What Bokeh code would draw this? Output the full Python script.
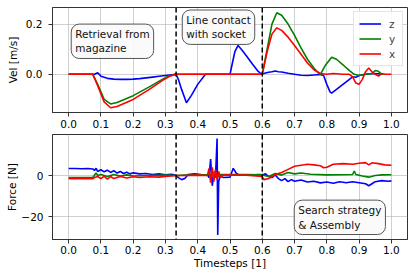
from bokeh.plotting import figure
from bokeh.layouts import column
from bokeh.models import Span, Label, FixedTicker, Legend, LegendItem
from bokeh.embed import file_html
from bokeh.resources import INLINE

# ---------------- data ----------------
# velocity (top panel)
vel_z_t = [0, 0.08, 0.085, 0.09, 0.095, 0.10, 0.11, 0.12, 0.14, 0.16, 0.18, 0.20, 0.22, 0.24, 0.26, 0.28, 0.30, 0.32, 0.333,
           0.34, 0.35, 0.365, 0.38, 0.40, 0.424, 0.50, 0.505, 0.515, 0.525, 0.535, 0.55, 0.57, 0.585, 0.598,
           0.61, 0.62, 0.63, 0.64, 0.65, 0.66, 0.68, 0.70, 0.72, 0.74, 0.76, 0.78, 0.79, 0.80, 0.81, 0.815, 0.83,
           0.85, 0.87, 0.88, 0.89, 0.90, 0.92, 0.94, 0.96, 0.97]
vel_z = [0, 0, 0.003, 0.006, 0.0, -0.008, -0.012, -0.016, -0.019, -0.02, -0.02, -0.019, -0.017, -0.014, -0.011, -0.008, -0.005, -0.002, 0,
         -0.02, -0.06, -0.113, -0.085, -0.04, 0, 0, 0.03, 0.09, 0.115, 0.1, 0.075, 0.04, 0.015, 0,
         0.005, 0.008, 0.01, 0.013, 0.01, 0.009, 0.004, 0.0, -0.004, -0.005, -0.003, -0.001, -0.005, -0.04, -0.07, -0.075, -0.06,
         -0.04, -0.02, -0.01, -0.012, -0.005, 0.0, 0.003, 0.002, 0.0]

vel_y_t = [0, 0.075, 0.09, 0.11, 0.13, 0.15, 0.20, 0.25, 0.29, 0.31, 0.333, 0.60, 0.615, 0.63, 0.645, 0.66, 0.68, 0.70,
           0.72, 0.74, 0.76, 0.775, 0.78, 0.795, 0.815, 0.83, 0.85, 0.87, 0.885, 0.90, 0.92, 0.94, 0.95, 0.96, 0.97, 0.975]
vel_y = [0, 0, -0.04, -0.1, -0.118, -0.112, -0.085, -0.05, -0.02, -0.007, 0, 0, 0.1, 0.2, 0.245, 0.235, 0.2, 0.155,
         0.105, 0.06, 0.025, 0.003, 0.0, 0.035, 0.068, 0.06, 0.038, 0.015, 0.0, -0.005, 0.0, 0.003, 0.015, 0.012, 0.0, 0.0]

vel_x_t = [0, 0.075, 0.09, 0.11, 0.13, 0.15, 0.20, 0.25, 0.29, 0.31, 0.33, 0.60, 0.615, 0.63, 0.645, 0.66, 0.68, 0.70,
           0.72, 0.74, 0.76, 0.78, 0.80, 0.82, 0.85, 0.87, 0.88, 0.89, 0.90, 0.91, 0.92, 0.93, 0.94, 0.95, 0.96, 0.97, 0.98, 1.0]
vel_x = [0, 0, -0.045, -0.11, -0.133, -0.128, -0.1, -0.06, -0.025, -0.01, 0, 0, 0.09, 0.16, 0.185, 0.175, 0.148, 0.115,
         0.08, 0.045, 0.018, 0.003, 0.0, 0.003, 0.0, 0.0, -0.01, -0.035, -0.04, -0.02, 0.01, 0.025, 0.01, 0.0, -0.007, 0.003, 0.0, 0.0]

# force (bottom panel)
f_z_t = [0.00, 0.02, 0.04, 0.06, 0.075, 0.08, 0.085, 0.09, 0.10, 0.11, 0.12, 0.13, 0.14, 0.15, 0.16, 0.17, 0.18, 0.19, 0.20,
         0.22, 0.24, 0.26, 0.28, 0.30, 0.32, 0.333, 0.34, 0.35, 0.36, 0.37, 0.39, 0.41, 0.43, 0.435, 0.44, 0.445, 0.45,
         0.455, 0.46, 0.462, 0.465, 0.47, 0.48, 0.50, 0.51, 0.52, 0.53, 0.55, 0.57, 0.59, 0.60, 0.61, 0.62, 0.63, 0.64,
         0.65, 0.66, 0.67, 0.68, 0.69, 0.70, 0.72, 0.74, 0.76, 0.78, 0.80, 0.82, 0.84, 0.86, 0.88, 0.90, 0.92, 0.93,
         0.94, 0.95, 0.97, 0.99, 1.0]
f_z = [3.4, 3.4, 3.3, 3.4, 3.2, 2.5, 3.5, 2.0, 2.8, 1.8, 2.6, 1.5, 2.4, 1.2, 2.0, 1.0, 1.6, 0.8, 1.3,
       0.8, 1.0, 0.5, 0.8, 0.4, 0.6, 0.0, -1.0, -2.0, -1.5, 0.5, 0.8, 0.5, 0.3, -1.0, 8.0, -5.0, 0.5,
       -1.0, 18.0, -29.0, -3.0, 0.0, -1.0, -0.8, 3.5, 1.0, 0.2, 0.3, 0.2, 0.5, 0.3, 0.8, -0.5, -1.0, 0.3,
       -1.5, -2.5, -1.5, -3.0, -2.0, -2.8, -2.2, -3.2, -2.8, -3.6, -3.2, -3.8, -3.0, -3.5, -3.0, -3.5, -4.0, -5.0,
       -4.0, -3.0, -2.5, -2.8, -2.6]

f_y_t = [0.00, 0.04, 0.075, 0.085, 0.09, 0.10, 0.12, 0.14, 0.16, 0.18, 0.20, 0.25, 0.30, 0.333, 0.36, 0.40, 0.44, 0.455,
         0.46, 0.47, 0.50, 0.55, 0.60, 0.62, 0.64, 0.66, 0.68, 0.70, 0.72, 0.75, 0.80, 0.85, 0.88, 0.885, 0.89, 0.91,
         0.93, 0.95, 0.97, 1.0]
f_y = [-1.0, -1.0, -1.0, 1.2, 0.0, 0.5, -0.5, 0.5, -0.3, 0.3, -0.2, 0.0, 0.2, 0.0, 0.2, 0.3, 0.5, 2.0,
       -1.0, 0.5, 0.5, 0.5, 0.3, -0.5, 1.0, 0.2, 1.5, 0.8, 1.2, 0.6, 0.3, 0.4, 0.5, 2.2, 0.5, -0.2,
       -0.8, 0.0, 0.3, 0.4]

f_x_t = [0.00, 0.04, 0.075, 0.08, 0.09, 0.10, 0.11, 0.12, 0.13, 0.14, 0.16, 0.18, 0.20, 0.22, 0.25, 0.28, 0.30, 0.333,
         0.36, 0.40, 0.43, 0.435, 0.44, 0.445, 0.45, 0.455, 0.46, 0.465, 0.47, 0.48, 0.50, 0.55, 0.60, 0.605, 0.62,
         0.64, 0.66, 0.68, 0.70, 0.72, 0.74, 0.76, 0.78, 0.79, 0.80, 0.82, 0.85, 0.88, 0.90, 0.92, 0.93, 0.94, 0.96,
         0.98, 1.0]
f_x = [-1.5, -1.5, -1.5, -1.0, -0.5, -1.5, -0.3, -1.8, -0.5, -1.5, -0.5, -1.2, -0.6, -1.0, -0.6, -0.8, -0.4, 0.0,
       0.0, 0.2, 0.0, 3.5, -3.5, 4.0, -3.0, 3.0, -2.0, 2.0, -1.0, 0.3, 0.2, 0.2, -0.5, -2.0, -1.5,
       0.5, 1.5, 3.0, 4.5, 5.0, 5.5, 5.2, 4.8, 3.8, 4.0, 5.5, 5.8, 5.5, 6.0, 6.3, 5.2, 6.2, 5.8,
       5.2, 5.0]

phase_bounds = [0.333, 0.6]
x_ticks = [0.0, 0.1, 0.2, 0.3, 0.4, 0.5, 0.6, 0.7, 0.8, 0.9, 1.0]
vel_ticks = [0.0, 0.2]
force_ticks = [-20, 0]
series_names = ["z", "y", "x"]
series_colors = ["#0000ff", "#008000", "#ff0000"]

FONT = "DejaVu Sans"
FS = "10.5px"
FRAME_COLOR = "#333333"


def style(p):
    p.outline_line_color = FRAME_COLOR
    p.outline_line_width = 1
    for ax in p.axis:
        ax.axis_line_color = FRAME_COLOR
        ax.major_tick_line_color = FRAME_COLOR
        ax.major_tick_out = 4
        ax.major_tick_in = 0
        ax.minor_tick_out = 0
        ax.minor_tick_in = 0
        ax.major_label_text_font = FONT
        ax.major_label_text_font_size = FS
        ax.major_label_text_color = "black"
        ax.axis_label_text_font = FONT
        ax.axis_label_text_font_size = FS
        ax.axis_label_text_font_style = "normal"
        ax.axis_label_text_color = "black"
    p.grid.grid_line_color = "#b0b0b0"
    p.grid.grid_line_alpha = 0.6
    p.grid.grid_line_width = 1
    p.xaxis.ticker = FixedTicker(ticks=x_ticks)
    p.xaxis.major_label_overrides = {t: f"{t:.1f}" for t in x_ticks}
    p.xaxis.major_label_standoff = 3
    p.background_fill_color = "white"
    p.border_fill_color = "white"
    for b in phase_bounds:
        p.add_layout(Span(location=b, dimension="height", line_color="black",
                          line_dash="5 3", line_width=1.5))


# ---------------- top: velocity ----------------
p1 = figure(frame_width=355, frame_height=105, x_range=(-0.05, 1.05), y_range=(-0.152, 0.266),
            output_backend="svg", toolbar_location=None,
            min_border_left=52, min_border_right=8, min_border_top=7, min_border_bottom=22)
r_z = p1.line(vel_z_t, vel_z, line_color=series_colors[0], line_width=1.6)
r_y = p1.line(vel_y_t, vel_y, line_color=series_colors[1], line_width=1.6)
r_x = p1.line(vel_x_t, vel_x, line_color=series_colors[2], line_width=1.6)
p1.yaxis.axis_label = "Vel [m/s]"
style(p1)
p1.yaxis.ticker = FixedTicker(ticks=vel_ticks)
p1.yaxis.major_label_overrides = {t: f"{t:.1f}" for t in vel_ticks}
p1.yaxis.major_label_standoff = 6
p1.yaxis.axis_label_standoff = 4

legend = Legend(items=[LegendItem(label=n, renderers=[r]) for n, r in zip(series_names, [r_z, r_y, r_x])],
                location="top_right", label_text_font=FONT, label_text_font_size=FS,
                glyph_width=22, glyph_height=13, label_height=13, label_width=8, spacing=2, padding=5, margin=4,
                border_line_color="#cccccc", background_fill_alpha=0.85, label_standoff=8)
p1.add_layout(legend)

box_kw = dict(text_font=FONT, text_font_size=FS, text_color="#111111",
              background_fill_color="#fafafa", background_fill_alpha=0.9,
              border_line_color="#555555", border_line_width=1, padding=4, border_radius=8,
              text_line_height=1.2)
p1.add_layout(Label(x=0.008, y=0.2, text="Retrieval from\nmagazine", anchor="top_left", **box_kw))
p1.add_layout(Label(x=0.352, y=0.256, text="Line contact\nwith socket", anchor="top_left", **box_kw))

# ---------------- bottom: force ----------------
p2 = figure(frame_width=355, frame_height=105, x_range=p1.x_range, y_range=(-31.2, 20.0),
            output_backend="svg", toolbar_location=None,
            min_border_left=52, min_border_right=8, min_border_top=0, min_border_bottom=0)
p2.line(f_z_t, f_z, line_color=series_colors[0], line_width=1.6)
p2.line(f_y_t, f_y, line_color=series_colors[1], line_width=1.6)
p2.line(f_x_t, f_x, line_color=series_colors[2], line_width=1.6)
p2.xaxis.axis_label = "Timesteps [1]"
p2.yaxis.axis_label = "Force [N]"
style(p2)
p2.yaxis.ticker = FixedTicker(ticks=force_ticks)
p2.yaxis.major_label_overrides = {-20: "\u221220", 0: "0"}
p2.yaxis.major_label_standoff = 5
p2.yaxis.axis_label_standoff = 0
p2.xaxis.axis_label_standoff = 0
p2.xaxis.major_label_standoff = 2
p2.add_layout(Label(x=0.699, y=-12.0, text="Search strategy\n& Assembly", anchor="top_left", **box_kw))

layout = column(p1, p2, spacing=0)
open("out.html", "w").write(file_html(layout, INLINE))
